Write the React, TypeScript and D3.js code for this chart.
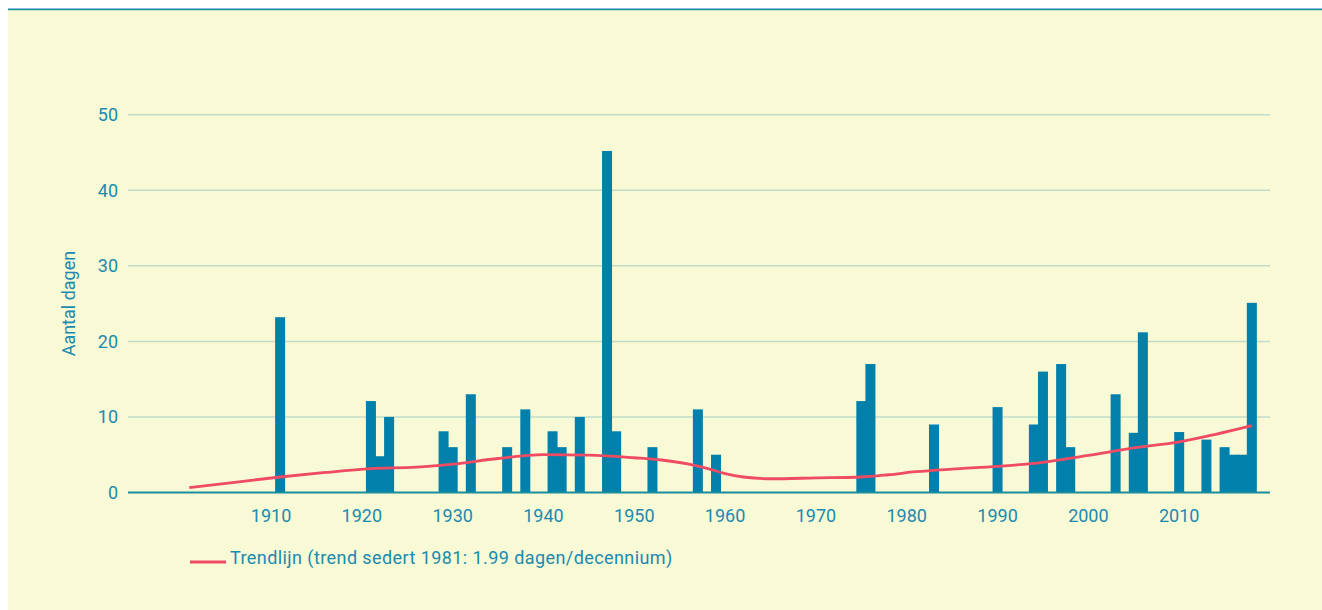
import React from "react";
import * as d3 from "d3";

const years = [1911, 1921, 1922, 1923, 1929, 1930, 1932, 1936, 1938, 1941, 1942, 1944, 1947, 1948, 1952, 1957, 1959, 1975, 1976, 1983, 1990, 1994, 1995, 1997, 1998, 2003, 2005, 2006, 2010, 2013, 2015, 2016, 2017, 2018];
const days = [23.2, 12.1, 4.8, 10, 8.1, 6, 13, 6, 11, 8.1, 6, 10, 45.2, 8.1, 6, 11, 5, 12.1, 17, 9, 11.3, 9, 16, 17, 6, 13, 7.9, 21.2, 8, 7, 6, 5, 5, 25.1];

const trendYears = [1901, 1906, 1911, 1916, 1921, 1926, 1930, 1935, 1940, 1945, 1950, 1953, 1956, 1958, 1960, 1962, 1965, 1970, 1975, 1978, 1981, 1985, 1990, 1995, 2000, 2005, 2010, 2014, 2018];
const trendValues = [0.66, 1.35, 2.05, 2.65, 3.15, 3.35, 3.75, 4.5, 5.0, 4.95, 4.6, 4.3, 3.75, 3.2, 2.5, 2.05, 1.82, 1.93, 2.05, 2.35, 2.75, 3.1, 3.45, 4.0, 4.9, 5.9, 6.7, 7.7, 8.85];

const xTicks = [1910, 1920, 1930, 1940, 1950, 1960, 1970, 1980, 1990, 2000, 2010];
const yTicks = [0, 10, 20, 30, 40, 50];

const yTitle = "Aantal dagen";
const legendLabel = "Trendlijn (trend sedert 1981: 1.99 dagen/decennium)";

const W = 1322;
const H = 610;
const FONT = "Roboto, 'Open Sans', sans-serif";
const TEXT = "#1b8ab0";
const BAR = "#0080ab";
const TREND = "#ef4b63";
const GRID = "#c2dcc8";
const BG = "#f8f9d5";

export default function App() {
  const x = d3.scaleLinear().domain([1894.25, 2020]).range([128, 1270]);
  const y = d3.scaleLinear().domain([0, 50]).range([492.5, 114.7]);
  const barW = 10;

  const trendPts = trendYears.map((yr, i) => [yr, trendValues[i]] as [number, number]);
  const line = d3
    .line<[number, number]>()
    .x((d) => x(d[0]))
    .y((d) => y(d[1]))
    .curve(d3.curveMonotoneX);

  return (
    <>
      <style>{`html,body{margin:0;padding:0;overflow:hidden;}`}</style>
      <svg width={W} height={H} style={{ display: "block" }}>
        <rect x={8} y={8} width={W - 8} height={H - 8} fill={BG} />
        <rect x={8} y={8} width={W - 8} height={1} fill="#7fc4d8" />
        <rect x={8} y={9} width={W - 8} height={1.2} fill="#1f8a9c" />

        {yTicks.map((t) =>
          t === 0 ? null : (
            <line key={"g" + t} x1={128} x2={1270} y1={y(t)} y2={y(t)} stroke={GRID} strokeWidth={1.5} />
          )
        )}

        {yTicks.map((t) => (
          <text
            key={"yl" + t}
            x={118}
            y={y(t)}
            dy="0.36em"
            textAnchor="end"
            fill={TEXT}
            fontFamily={FONT}
            fontSize={18}
          >
            {t}
          </text>
        ))}

        <text
          transform={`translate(75,${(y(0) + y(50)) / 2}) rotate(-90)`}
          textAnchor="middle"
          fill={TEXT}
          fontFamily={FONT}
          fontSize={18}
        >
          {yTitle}
        </text>

        {years.map((yr, i) => (
          <rect
            key={"b" + yr}
            x={x(yr) - barW / 2}
            y={y(days[i])}
            width={barW}
            height={y(0) - y(days[i])}
            fill={BAR}
          />
        ))}

        <line x1={128} x2={1270} y1={y(0)} y2={y(0)} stroke="#1b8c9e" strokeWidth={2} />

        <path d={line(trendPts) || ""} fill="none" stroke={TREND} strokeWidth={2.8} />

        {xTicks.map((t) => (
          <text
            key={"xl" + t}
            x={x(t)}
            y={522}
            textAnchor="middle"
            fill={TEXT}
            fontFamily={FONT}
            fontSize={18}
          >
            {t}
          </text>
        ))}

        <line x1={190} x2={226} y1={562} y2={562} stroke={TREND} strokeWidth={3} />
        <text x={230} y={563.5} fill={TEXT} fontFamily={FONT} fontSize={18} letterSpacing={0.42}>
          {legendLabel}
        </text>
      </svg>
    </>
  );
}
